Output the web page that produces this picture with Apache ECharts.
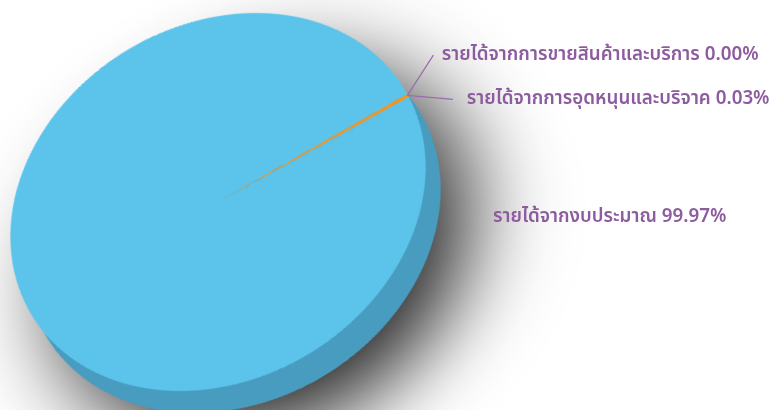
<!DOCTYPE html>
<html><head><meta charset="utf-8">
<script src="https://cdn.jsdelivr.net/npm/echarts@6/dist/echarts.min.js"></script>
<style>
html,body{margin:0;padding:0;width:773px;height:410px;overflow:hidden;background:#fff;}
body{position:relative;}
#pie{position:absolute;width:1000px;height:1000px;}
#labels{position:absolute;left:0;top:0;width:773px;height:410px;}
</style></head><body>
<div id="pie"></div><div id="labels"></div>
<script>
// ---- data ----
const categories = ['รายได้จากงบประมาณ', 'รายได้จากการอุดหนุนและบริจาค', 'รายได้จากการขายสินค้าและบริการ'];
const shares = [99.97, 0.03, 0.00];
const sliceColors = ['#5cc4eb', '#f7941d', '#5cc4eb'];

// ---- geometry / style ----
const CX = 218.2, CY = 201.5;       // centre of the top face on screen
const A = 218, B = 177, PHI = 31.4; // ellipse semi-axes and tilt (deg)
const R0 = 200;                     // pie radius before the tilt
const HALF = 500;                   // half size of the tilted drawing area
const ANCHOR_DEG = 29.3;            // screen direction of the small slices
const LR = 216.7;                   // screen distance centre -> rim in that direction
const DEPTH = [15, 22];             // screen offset of the side of the disc
const SHADOW = [30, 26];
const SIDE_COLOR = '#479cbf';
const TEXT_COLOR = '#8d5c9f';
const LINE_COLOR = '#9a6cad';
const FONT = "'Noto Sans Thai', 'Noto Sans', sans-serif";

const th = -PHI * Math.PI / 180;
const sx = A / R0, sy = B / R0;
function inv(v) {
  const c = Math.cos(-th), s = Math.sin(-th);
  const x = c * v[0] - s * v[1], y = s * v[0] + c * v[1];
  return [x / sx, y / sy];
}
const psi = (ANCHOR_DEG - PHI) * Math.PI / 180;
const tDeg = Math.atan2(A * Math.sin(psi), B * Math.cos(psi)) * 180 / Math.PI;
const MIN_ANGLE = 1.1;

const pieDom = document.getElementById('pie');
pieDom.style.left = (CX - HALF) + 'px';
pieDom.style.top = (CY - HALF) + 'px';
pieDom.style.transformOrigin = HALF + 'px ' + HALF + 'px';
pieDom.style.transform = 'rotate(' + (-PHI) + 'deg) scale(' + sx + ',' + sy + ')';

const dPre = inv(DEPTH);
const sPre = inv(SHADOW);
const seriesData = categories.map((n, i) => ({ name: n, value: shares[i] }));

const pieChart = echarts.init(pieDom, null, { renderer: 'canvas', devicePixelRatio: 2 });
pieChart.setOption({
  animation: false,
  series: [
    {
      type: 'pie', silent: true,
      center: [HALF + dPre[0], HALF + dPre[1]], radius: R0,
      startAngle: tDeg, clockwise: true,
      label: { show: false }, labelLine: { show: false },
      itemStyle: { color: SIDE_COLOR, borderWidth: 0,
        shadowBlur: 90, shadowColor: 'rgba(0,0,0,0.85)',
        shadowOffsetX: sPre[0], shadowOffsetY: sPre[1] },
      data: seriesData
    },
    {
      type: 'pie', silent: true,
      center: [HALF, HALF], radius: R0,
      startAngle: tDeg - 1.5 * MIN_ANGLE, clockwise: true, minAngle: MIN_ANGLE,
      avoidLabelOverlap: false,
      label: { show: false }, labelLine: { show: false },
      itemStyle: { borderWidth: 0 },
      data: seriesData.map((d, i) => ({ name: d.name, value: d.value, itemStyle: { color: sliceColors[i] } }))
    }
  ]
});

// label offsets relative to the rim anchor
const LINE_END = [null, [45.8, 4], [26.1, -40.5]];
const TEXT_AT = [null, [59.5, 2.8], [34.5, -41.5]];
const BIG_LABEL = [493, 216];

const labelChart = echarts.init(document.getElementById('labels'), null, { renderer: 'svg' });
const angRad = ANCHOR_DEG * Math.PI / 180;
const fallbackAnchor = [CX + LR * Math.cos(angRad), CY - LR * Math.sin(angRad)];
labelChart.setOption({
  animation: false,
  series: [{
    type: 'pie', silent: true,
    center: [CX, CY], radius: LR,
    startAngle: ANCHOR_DEG - 0.054, clockwise: true,
    avoidLabelOverlap: false,
    itemStyle: { color: 'rgba(0,0,0,0)', borderWidth: 0 },
    label: { show: true, position: 'outside',
      formatter: function (p) { return p.name + ' ' + p.percent.toFixed(2) + '%'; },
      color: TEXT_COLOR, fontSize: 18.8, fontWeight: 600, fontFamily: FONT },
    labelLine: { show: true, lineStyle: { color: LINE_COLOR, width: 1.2 } },
    labelLayout: function (p) {
      const i = p.dataIndex;
      if (i === 0) {
        return { x: BIG_LABEL[0], y: BIG_LABEL[1], align: 'left', verticalAlign: 'middle' };
      }
      const a = (p.labelLinePoints && p.labelLinePoints[0]) || fallbackAnchor;
      return {
        x: a[0] + TEXT_AT[i][0], y: a[1] + TEXT_AT[i][1], align: 'left', verticalAlign: 'middle',
        labelLinePoints: [[a[0], a[1]], [a[0] + LINE_END[i][0], a[1] + LINE_END[i][1]]]
      };
    },
    data: seriesData.map((d, i) => i === 0 ? { name: d.name, value: d.value, labelLine: { show: false } } : d)
  }]
});
</script>
</body></html>
